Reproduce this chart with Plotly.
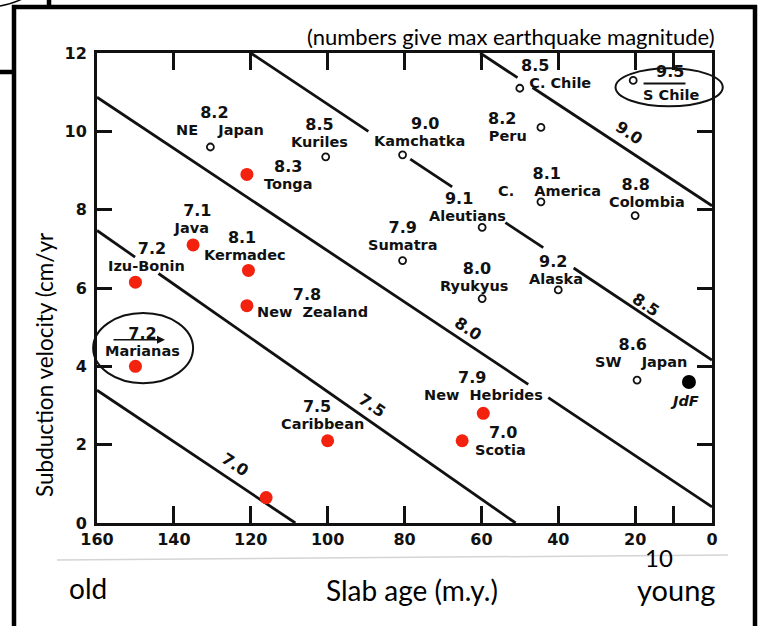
import plotly.graph_objects as go

NB = "\u00a0"

# ---------------- data ----------------
x_tickvals = [160, 140, 120, 100, 80, 60, 40, 20, 10, 0]
x_ticktext = ["160", "140", "120", "100", "80", "60", "40", "20", "", "0"]
y_tickvals = [0, 2, 4, 6, 8, 10, 12]
y_ticktext = ["0", "2", "4", "6", "8", "10", "12"]

# red (highlighted) subduction zones: slab age (m.y.), velocity (cm/yr)
red_names = ["Tonga", "Java", "Kermadec", "Izu-Bonin", "New" + NB * 2 + "Zealand",
             "Marianas", "Caribbean", "", "New" + NB * 2 + "Hebrides", "Scotia"]
red_mag = ["8.3", "7.1", "8.1", "7.2", "7.8", "7.2", "7.5", "", "7.9", "7.0"]
red_age = [121, 135, 120.6, 150, 121, 150, 100, 116, 59.5, 65]
red_vel = [8.9, 7.1, 6.45, 6.15, 5.55, 4.0, 2.1, 0.65, 2.8, 2.1]

# open-circle subduction zones
open_names = ["NE" + NB * 4 + "Japan", "Kuriles", "Kamchatka", "C." + NB + "Chile",
              "S" + NB + "Chile", "Peru", "C." + NB * 4 + "America", "Colombia",
              "Aleutians", "Sumatra", "Ryukyus", "Alaska", "SW" + NB * 4 + "Japan"]
open_mag = ["8.2", "8.5", "9.0", "8.5", "9.5", "8.2", "8.1", "8.8", "9.1", "7.9",
            "8.0", "9.2", "8.6"]
open_age = [130.5, 100.5, 80.5, 50, 20.5, 44.5, 44.5, 20, 59.8, 80.5, 59.8, 40, 19.5]
open_vel = [9.6, 9.35, 9.4, 11.1, 11.3, 10.1, 8.2, 7.85, 7.55, 6.7, 5.73, 5.95, 3.65]

jdf_age = [6]
jdf_vel = [3.6]

# magnitude contour lines (None = gap for labels)
contour_mag = ["7.0", "7.5", "8.0", "8.5", "9.0"]
c70_age = [160, 108.4]
c70_vel = [3.39, 0]
c75_age = [160, 150.1, None, 144, 51.1]
c75_vel = [7.47, 6.79, None, 6.37, 0]
c80_age = [160, 47.8, None, 42.6, 0]
c80_vel = [10.87, 3.54, None, 3.20, 0.41]
c85_age = [120, 89.4, None, 78.5, 67.6, None, 53.75, 43.9, None, 36, 0]
c85_vel = [12, 10.0, None, 9.29, 8.58, None, 7.67, 7.03, None, 6.51, 4.16]
c90_age = [60.3, 50.6, None, 46.7, 0]
c90_vel = [12, 11.37, None, 11.12, 8.1]

# ---------------- layout geometry ----------------
W, H = 761, 626
ML, MR, MT, MB = 97, 49, 53, 103
PW, PH = W - ML - MR, H - MT - MB
X_RANGE = [160, 0]
Y_RANGE = [0, 12]


def pxp(px):
    return (px - ML) / PW


def pyp(py):
    return (H - MB - py) / PH


def dxp(x):  # data age -> paper
    return (X_RANGE[0] - x) / (X_RANGE[0] - X_RANGE[1])


def dyp(y):
    return (y - Y_RANGE[0]) / (Y_RANGE[1] - Y_RANGE[0])


BASE = dict(family="DejaVu Sans", size=13, color="#111111", weight="bold")
NAME_SIZE = 14.5
MAG_SIZE = 16
SPACE_W = 0.348 * MAG_SIZE
SLIDE = "Lato, 'Open Sans', sans-serif"

fig = go.Figure()

for ax_, ay_ in [(c70_age, c70_vel), (c75_age, c75_vel), (c80_age, c80_vel),
                 (c85_age, c85_vel), (c90_age, c90_vel)]:
    fig.add_trace(go.Scatter(x=ax_, y=ay_, mode="lines", connectgaps=False,
                             line=dict(color="#111111", width=2.8),
                             hoverinfo="skip", showlegend=False))

fig.add_trace(go.Scatter(x=open_age, y=open_vel, mode="markers",
                         marker=dict(symbol="circle-open", size=7, color="#111111",
                                     line=dict(width=1.8, color="#111111")),
                         showlegend=False, text=open_names))
fig.add_trace(go.Scatter(x=jdf_age, y=jdf_vel, mode="markers",
                         marker=dict(symbol="circle", size=14, color="#000000"),
                         showlegend=False))
fig.add_trace(go.Scatter(x=red_age, y=red_vel, mode="markers",
                         marker=dict(symbol="circle", size=13, color="#f2220f"),
                         showlegend=False, text=red_names))

ann = []


def lab(x, y, text, dx, dy, **kw):
    f = dict(BASE)
    f.update(kw.pop("font", {}))
    ann.append(dict(x=x, y=y, xref="x", yref="y", text=text, showarrow=False,
                    xshift=dx, yshift=-dy, xanchor="center", yanchor="middle",
                    font=f, **kw))


def combo(x, y, mag, name, moff, noff):
    """magnitude stacked above the zone name, one text block"""
    delta = moff[0] - noff[0]
    n = int(round(abs(2 * delta) / SPACE_W))
    m = (mag + NB * n) if delta < 0 else (NB * n + mag)
    txt = (f"<span style='font-size:{MAG_SIZE}px'>{m}</span><br>"
           f"<span style='font-size:{NAME_SIZE}px'>{name}</span>")
    lab(x, y, txt, noff[0], (moff[1] + noff[1]) / 2.0)


# red labels: (mag offset, name offset) in pixels from the point
red_off = [((41, -8), (41, 9)), ((4, -35), (-2, -18)), ((-6, -32), (-3, -18)),
           ((17, -34), (11, -17)), ((61, -13), (66, 7)), ((7, -34), (7, -16)),
           ((-10, -34), (-5, -18)), None, ((-10, -38), (0, -18)), ((41, -9), (38, 9))]
for i, off in enumerate(red_off):
    if off is None:
        continue
    combo(red_age[i], red_vel[i], red_mag[i], red_names[i], *off)

open_off = [((4, -36), (10, -16.5)), ((-6, -33), (-6, -15)), ((22, -33), (17, -13)),
            ((16, -22), (40, -7)), ((37, -9), (38, 15)), ((-38, -9), (-33, 7)),
            ((5, -30), (9, -11.5)), ((1, -32), (12, -15)), ((-22, -28), (-15, -13)),
            ((1, -33), (0, -18)), ((-4, -30), (-8, -14)), ((-5, -27), (-2, -13)),
            ((-3, -38), (4, -17))]
for i, off in enumerate(open_off):
    if i == 4:  # S Chile: magnitude over a bar, drawn separately
        lab(open_age[i], open_vel[i], open_mag[i], *off[0], font=dict(size=MAG_SIZE))
        lab(open_age[i], open_vel[i], open_names[i], *off[1], font=dict(size=NAME_SIZE))
        continue
    combo(open_age[i], open_vel[i], open_mag[i], open_names[i], *off)

lab(jdf_age[0], jdf_vel[0], "JdF", -4, 19, font=dict(style="italic", size=NAME_SIZE))

# contour labels along lines
c_lab_pos = [(124.1, 1.5), (88.4, 3.0), (63.6, 4.97), (17.3, 5.59), (21.7, 9.97)]
for t, (x, y) in zip(contour_mag, c_lab_pos):
    lab(x, y, t, 0, 0, textangle=34, font=dict(size=MAG_SIZE))

# Marianas arrow under 7.2
ann.append(dict(x=142.3, y=4.68, xref="x", yref="y", ax=-53, ay=0, axref="pixel",
                text="", showarrow=True, arrowhead=2, arrowsize=1, arrowwidth=1.6,
                arrowcolor="#111111"))

# slide texts
ann.append(dict(x=pxp(511), y=pyp(37), xref="paper", yref="paper",
                text="(numbers give max earthquake magnitude)", showarrow=False,
                font=dict(family=SLIDE, size=22, color="#000"),
                xanchor="center", yanchor="middle"))
ann.append(dict(x=pxp(44), y=pyp(365), xref="paper", yref="paper",
                text="Subduction velocity (cm/yr", textangle=-90, showarrow=False,
                font=dict(family=SLIDE, size=22.5, color="#000"),
                xanchor="center", yanchor="middle"))
ann.append(dict(x=pxp(412), y=pyp(590), xref="paper", yref="paper",
                text="Slab age (m.y.)", showarrow=False,
                font=dict(family=SLIDE, size=28, color="#000"),
                xanchor="center", yanchor="middle"))
ann.append(dict(x=pxp(88), y=pyp(588), xref="paper", yref="paper", text="old",
                showarrow=False, font=dict(family=SLIDE, size=28, color="#000"),
                xanchor="center", yanchor="middle"))
ann.append(dict(x=pxp(676), y=pyp(589), xref="paper", yref="paper", text="young",
                showarrow=False, font=dict(family=SLIDE, size=29, color="#000"),
                xanchor="center", yanchor="middle", borderpad=0))
ann.append(dict(x=pxp(659), y=pyp(557), xref="paper", yref="paper", text="10",
                showarrow=False, font=dict(family=SLIDE, size=24, color="#000"),
                xanchor="center", yanchor="middle", borderpad=0))

shapes = []
# ellipses (Marianas, S Chile)
shapes.append(dict(type="circle", xref="paper", yref="paper",
                   x0=dxp(161), x1=dxp(135), y0=dyp(3.57), y1=dyp(5.36),
                   line=dict(color="#111111", width=2)))
shapes.append(dict(type="circle", xref="paper", yref="paper",
                   x0=dxp(25.1), x1=dxp(-2.8), y0=dyp(10.64), y1=dyp(11.61),
                   line=dict(color="#111111", width=2)))
# S Chile underline
shapes.append(dict(type="line", xref="x", yref="y", x0=17.8, x1=6.9, y0=11.22, y1=11.22,
                   line=dict(color="#111111", width=2)))
# slide frame
frame = dict(color="#000000", width=4.5)
shapes.append(dict(type="line", xref="paper", yref="paper", x0=pxp(14), x1=pxp(14),
                   y0=pyp(5), y1=pyp(640), line=frame))
shapes.append(dict(type="line", xref="paper", yref="paper", x0=pxp(12), x1=pxp(757),
                   y0=pyp(7), y1=pyp(7), line=frame))
shapes.append(dict(type="line", xref="paper", yref="paper", x0=pxp(755), x1=pxp(755),
                   y0=pyp(5), y1=pyp(640), line=frame))
shapes.append(dict(type="line", xref="paper", yref="paper", x0=pxp(-5), x1=pxp(14),
                   y0=pyp(72), y1=pyp(72), line=frame))
shapes.append(dict(type="line", xref="paper", yref="paper", x0=pxp(49), x1=pxp(49),
                   y0=pyp(-5), y1=pyp(7), line=frame))
shapes.append(dict(type="path", xref="paper", yref="paper",
                   path=f"M {pxp(0)},{pyp(6)} Q {pxp(12)},{pyp(4)} {pxp(22)},{pyp(-1)}",
                   line=dict(color="#000", width=1.5)))
# faint scan edge
shapes.append(dict(type="line", xref="paper", yref="paper", x0=pxp(57), x1=pxp(728),
                   y0=pyp(560), y1=pyp(555), line=dict(color="#d4d4d4", width=1.5)))

axis_common = dict(showline=True, linecolor="#111111", linewidth=3, mirror="allticks",
                   ticks="inside", tickcolor="#111111", tickwidth=2.5,
                   showgrid=False, zeroline=False,
                   tickfont=dict(family="DejaVu Sans", size=16, color="#111111",
                                 weight="bold"))

fig.update_layout(
    width=W, height=H, autosize=False,
    margin=dict(l=ML, r=MR, t=MT, b=MB, pad=0),
    paper_bgcolor="white", plot_bgcolor="white",
    xaxis=dict(range=X_RANGE, tickvals=x_tickvals, ticktext=x_ticktext, ticklen=17,
               **axis_common),
    yaxis=dict(range=Y_RANGE, tickvals=y_tickvals, ticktext=y_ticktext, ticklen=15,
               ticklabelstandoff=4, **axis_common),
    annotations=ann, shapes=shapes, showlegend=False,
)

fig.write_html("out.html", config={"displayModeBar": False},
               post_script="document.body.style.margin='0px';"
                           "document.documentElement.style.overflow='hidden';")
